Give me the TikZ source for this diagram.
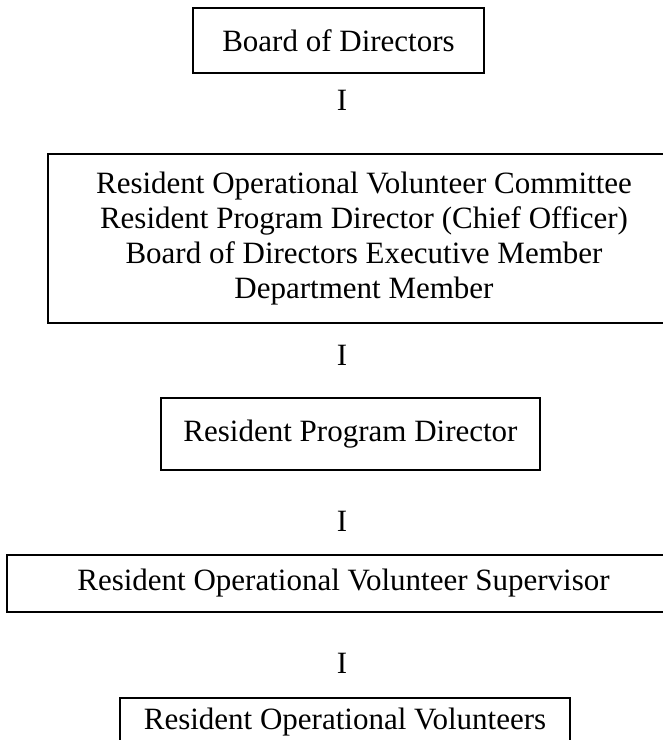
\documentclass[tikz,border=0pt]{standalone}
\usepackage{fontspec}
\setmainfont{Liberation Serif}
\usepackage{tikz}

\begin{document}
\begin{tikzpicture}[
        x=0.5pt, y=-0.5pt,
        box/.style={rectangle, draw=black, line width=1pt, inner sep=0pt, text centered, align=center, font=\fontsize{15.5}{17.5}\selectfont},
        lastbox/.style={box, anchor=north, inner sep=5pt, text depth=25pt},
        bar/.style={anchor=base, inner sep=0pt, font=\fontsize{15.5}{17.5}\selectfont}
    ]

        \useasboundingbox (0,0) rectangle (663,740);
        \clip (0,0) rectangle (663,740);

        % ========== BOARD ==========
        \node[box, minimum width=145.5pt, minimum height=32.5pt] (board) at (338.5,40.5) {Board of Directors};
        \node[bar] (bar1) at (342,110) {I};

        % ========== COMMITTEE ==========
        \node[box, minimum width=316pt, minimum height=84.5pt] (committee) at (364,238.5) {Resident Operational Volunteer Committee\\Resident Program Director (Chief Officer)\\Board of Directors Executive Member\\Department Member};
        \node[bar] (bar2) at (342,365) {I};

        % ========== DIRECTOR ==========
        \node[box, minimum width=189.5pt, minimum height=36pt] (director) at (350.5,434) {Resident Program Director};
        \node[bar] (bar3) at (342,531) {I};

        % ========== SUPERVISOR ==========
        \node[box, minimum width=336.5pt, minimum height=28.5pt] (supervisor) at (343.5,583.5) {Resident Operational Volunteer Supervisor};
        \node[bar] (bar4) at (342,673) {I};

        % ========== VOLUNTEERS (cut at the page edge) ==========
        \node[lastbox, minimum width=225pt] (volunteers) at (345,697) {Resident Operational Volunteers};

    \end{tikzpicture}
\end{document}
